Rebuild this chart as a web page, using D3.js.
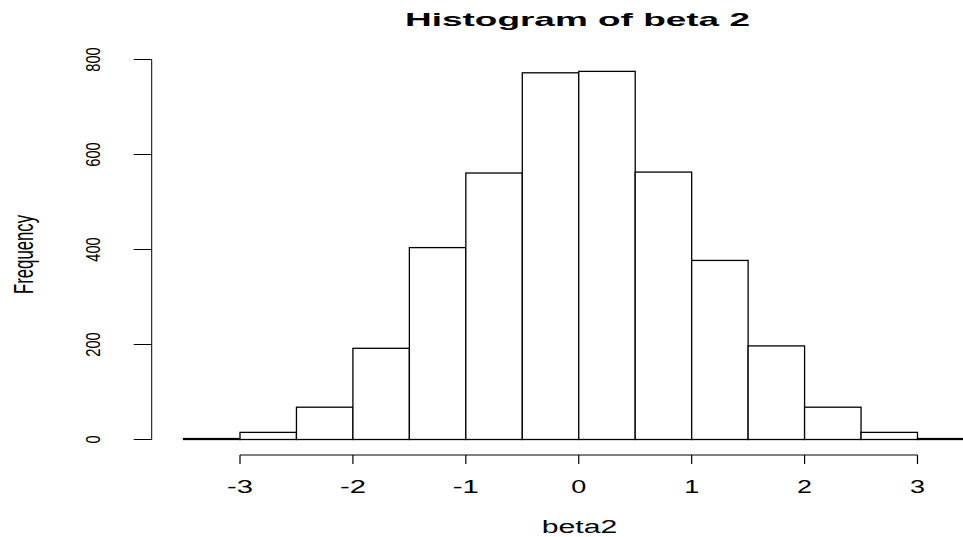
<!DOCTYPE html>
<html>
<head>
<meta charset="utf-8">
<script src="https://cdn.jsdelivr.net/npm/d3@7"></script>
<style>
  html, body { margin: 0; padding: 0; background: #fff; }
  svg { display: block; font-family: "Liberation Sans", Arial, Helvetica, sans-serif; }
</style>
</head>
<body>
<div id="chart"></div>
<script>
// Histogram bins of beta2 (width 0.5) and their counts
const binStarts = [-3.5, -3, -2.5, -2, -1.5, -1, -0.5, 0, 0.5, 1, 1.5, 2, 2.5, 3];
const binWidth = 0.5;
const counts = [2, 15, 68, 192, 404, 561, 772, 775, 563, 377, 197, 68, 15, 2];
const xTicks = [-3, -2, -1, 0, 1, 2, 3];
const yTicks = [0, 200, 400, 600, 800];

const width = 963, height = 537;

const svg = d3.select('#chart').append('svg')
    .attr('width', width)
    .attr('height', height);

const bins = binStarts.map((x0, i) => ({ x0, x1: x0 + binWidth, n: counts[i] }));

// scales (the picture is stretched horizontally, so the plot runs off the right edge)
const x = d3.scaleLinear().domain([-3, 3]).range([240, 917.5]);
const y = d3.scaleLinear().domain([0, 800]).range([439.5, 59.5]);

// bars
svg.append('g')
    .selectAll('rect')
    .data(bins)
    .join('rect')
    .attr('x', d => x(d.x0))
    .attr('y', d => y(d.n))
    .attr('width', d => x(d.x1) - x(d.x0))
    .attr('height', d => y(0) - y(d.n))
    .attr('fill', '#fff')
    .attr('stroke', '#000')
    .attr('stroke-width', 1.3);

// x axis (R style: line from first to last tick, offset below)
const xAxisY = 455;
const xAxis = svg.append('g').attr('transform', `translate(0,${xAxisY})`);
xAxis.append('line')
    .attr('x1', x(xTicks[0])).attr('x2', x(xTicks[xTicks.length - 1]))
    .attr('stroke', '#000').attr('stroke-width', 1);
xAxis.selectAll('line.tick')
    .data(xTicks)
    .join('line')
    .attr('class', 'tick')
    .attr('x1', d => x(d)).attr('x2', d => x(d))
    .attr('y1', 0).attr('y2', 9)
    .attr('stroke', '#000').attr('stroke-width', 1.2);
xAxis.selectAll('text')
    .data(xTicks)
    .join('text')
    .attr('x', d => x(d))
    .attr('y', 38)
    .attr('text-anchor', 'middle')
    .attr('font-size', 17.7)
    .attr('textLength', d => (d < 0 ? 26 : 15))
    .attr('lengthAdjust', 'spacingAndGlyphs')
    .text(d => d < 0 ? '-' + Math.abs(d) : d);

// y axis
const yAxisX = 151.7;
const yAxis = svg.append('g');
yAxis.append('line')
    .attr('x1', yAxisX).attr('x2', yAxisX)
    .attr('y1', y(yTicks[0])).attr('y2', y(yTicks[yTicks.length - 1]))
    .attr('stroke', '#000').attr('stroke-width', 1);
yAxis.selectAll('line.tick')
    .data(yTicks)
    .join('line')
    .attr('class', 'tick')
    .attr('x1', yAxisX - 18).attr('x2', yAxisX)
    .attr('y1', d => y(d)).attr('y2', d => y(d))
    .attr('stroke', '#000').attr('stroke-width', 1);
yAxis.selectAll('text')
    .data(yTicks)
    .join('text')
    .attr('transform', d => `translate(100,${y(d)}) rotate(-90)`)
    .attr('text-anchor', 'middle')
    .attr('font-size', 21)
    .attr('textLength', d => String(d).length * 8.15)
    .attr('lengthAdjust', 'spacingAndGlyphs')
    .text(d => d);

// axis titles
svg.append('text')
    .attr('transform', 'translate(33,254.5) rotate(-90)')
    .attr('text-anchor', 'middle')
    .attr('font-size', 28)
    .attr('textLength', 79)
    .attr('lengthAdjust', 'spacingAndGlyphs')
    .text('Frequency');

svg.append('text')
    .attr('x', 579.5)
    .attr('y', 533)
    .attr('text-anchor', 'middle')
    .attr('font-size', 18)
    .attr('textLength', 75.6)
    .attr('lengthAdjust', 'spacingAndGlyphs')
    .text('beta2');

// main title
svg.append('text')
    .attr('x', 577.5)
    .attr('y', 26)
    .attr('text-anchor', 'middle')
    .attr('font-size', 18.6)
    .attr('font-weight', 'bold')
    .attr('textLength', 345)
    .attr('lengthAdjust', 'spacingAndGlyphs')
    .text('Histogram of beta 2');
</script>
</body>
</html>
